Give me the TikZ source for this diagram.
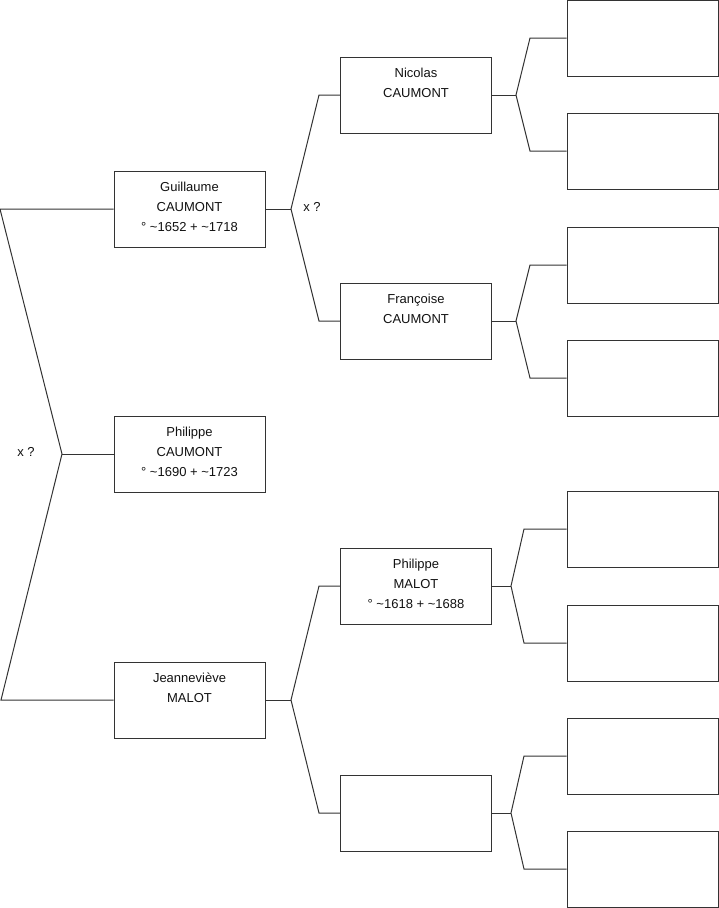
\documentclass[tikz,border=0pt]{standalone}
\usepackage{fontspec}
\setmainfont{Liberation Sans}
\usetikzlibrary{positioning}
\definecolor{treeLine}{HTML}{333333}
\definecolor{treeText}{HTML}{111111}

\tikzset{
  person/.style={draw=treeLine, line width=1pt, minimum width=151pt, minimum height=76pt, inner sep=0pt},
  who/.style={inner sep=0pt, align=center, text=treeText, font=\fontsize{13}{20}\selectfont},
  union/.style={inner sep=0pt, text=treeText, font=\fontsize{13}{16}\selectfont},
  branch/.style={draw=treeLine, line width=1pt, line join=miter}
}

\begin{document}
\begin{tikzpicture}[x=1pt, y=-1pt]
    \useasboundingbox (0,0) rectangle (719,908);

    % generation 1
    \node[person] (guillaume) at (189.5,209) {};
    \node[person] (philippe)  at (189.5,454) {};
    \node[person] (jeanne)    at (189.5,700) {};
    \node[who, below=11.5pt of guillaume.north] (guillaumeTxt) {Guillaume\\CAUMONT\\° \textasciitilde1652 + \textasciitilde1718};
    \node[who, below=11.5pt of philippe.north] (philippeTxt) {Philippe\\CAUMONT\\° \textasciitilde1690 + \textasciitilde1723};
    \node[who, below=11.5pt of jeanne.north] (jeanneTxt) {Jeanneviève\\MALOT};

    % generation 2
    \node[person] (nicolas)   at (416,95)  {};
    \node[person] (francoise) at (416,321) {};
    \node[person] (philMalot) at (416,586) {};
    \node[person] (unknownM)  at (416,813) {};
    \node[who, below=11.5pt of nicolas.north] (nicolasTxt) {Nicolas\\CAUMONT};
    \node[who, below=11.5pt of francoise.north] (francoiseTxt) {Françoise\\CAUMONT};
    \node[who, below=11.5pt of philMalot.north] (philMalotTxt) {Philippe\\MALOT\\° \textasciitilde1618 + \textasciitilde1688};

    % generation 3 (empty)
    \node[person] (gpA) at (642.5,38)  {};
    \node[person] (gpB) at (642.5,151) {};
    \node[person] (gpC) at (642.5,265) {};
    \node[person] (gpD) at (642.5,378) {};
    \node[person] (gpE) at (642.5,529) {};
    \node[person] (gpF) at (642.5,643) {};
    \node[person] (gpG) at (642.5,756) {};
    \node[person] (gpH) at (642.5,869) {};

    % marriage marks
    \node[union] (unionA) at (26,452)  {x ?};
    \node[union] (unionB) at (312,207) {x ?};

    % bracket corners
    \coordinate (rootTop) at (0,209);
    \coordinate (rootMid) at (62,454);
    \coordinate (rootBot) at (1,700);

    \coordinate (guiMid) at (291,209);
    \coordinate (guiTop) at (319,95);
    \coordinate (guiBot) at (319,321);
    \coordinate (jeaMid) at (291,700);
    \coordinate (jeaTop) at (319,586);
    \coordinate (jeaBot) at (319,813);

    \coordinate (nicMid) at (516,95);
    \coordinate (nicTop) at (530,38);
    \coordinate (nicBot) at (530,151);
    \coordinate (fraMid) at (516,321);
    \coordinate (fraTop) at (530,265);
    \coordinate (fraBot) at (530,378);
    \coordinate (phiMid) at (511,586);
    \coordinate (phiTop) at (524,529);
    \coordinate (phiBot) at (524,643);
    \coordinate (unkMid) at (511,813);
    \coordinate (unkTop) at (524,756);
    \coordinate (unkBot) at (524,869);

    % connectors
    \draw[branch] (guillaume.west) -- (rootTop) -- (rootMid) -- (rootBot) -- (jeanne.west);
    \draw[branch] (rootMid) -- (philippe.west);

    \draw[branch] (nicolas.west) -- (guiTop) -- (guiMid) -- (guiBot) -- (francoise.west);
    \draw[branch] (guiMid) -- (guillaume.east);
    \draw[branch] (philMalot.west) -- (jeaTop) -- (jeaMid) -- (jeaBot) -- (unknownM.west);
    \draw[branch] (jeaMid) -- (jeanne.east);

    \draw[branch] (gpA.west) -- (nicTop) -- (nicMid) -- (nicBot) -- (gpB.west);
    \draw[branch] (nicMid) -- (nicolas.east);
    \draw[branch] (gpC.west) -- (fraTop) -- (fraMid) -- (fraBot) -- (gpD.west);
    \draw[branch] (fraMid) -- (francoise.east);
    \draw[branch] (gpE.west) -- (phiTop) -- (phiMid) -- (phiBot) -- (gpF.west);
    \draw[branch] (phiMid) -- (philMalot.east);
    \draw[branch] (gpG.west) -- (unkTop) -- (unkMid) -- (unkBot) -- (gpH.west);
    \draw[branch] (unkMid) -- (unknownM.east);
\end{tikzpicture}
\end{document}
